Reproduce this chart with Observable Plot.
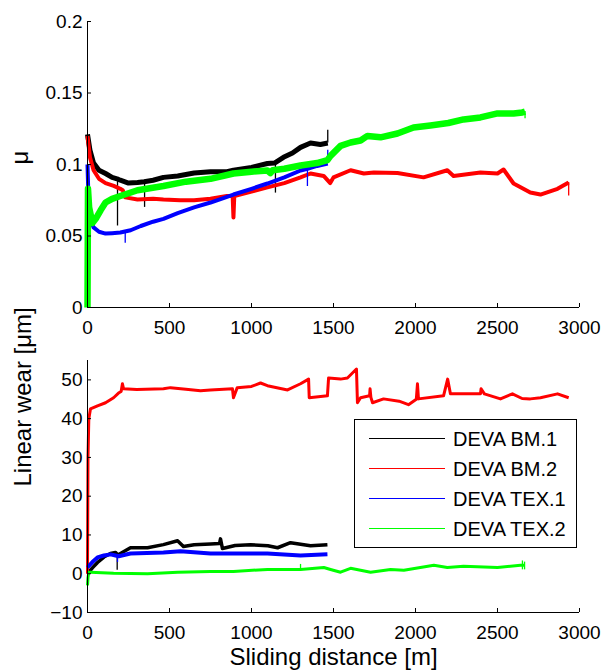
<!DOCTYPE html>
<html>
<head>
<meta charset="utf-8">
<script src="https://cdn.jsdelivr.net/npm/d3@7"></script>
<script src="https://cdn.jsdelivr.net/npm/@observablehq/plot@0.6"></script>
<style>
  html, body { margin: 0; padding: 0; background: #fff; }
  #wrap { position: relative; width: 603px; height: 671px; font-family: "Liberation Sans", Arial, sans-serif; }
  #top { position: absolute; left: 0; top: 0; }
  #bottom { position: absolute; left: 0; top: 340px; }
  #legend { position: absolute; left: 354px; top: 419px; width: 221px; height: 127px; border: 1.5px solid #000; background: #fff; }
  .row { position: absolute; left: 0; height: 30px; width: 100%; }
  .sw { position: absolute; left: 14px; width: 76px; top: 14px; border-top: 1.5px solid; }
  .lb { position: absolute; left: 98px; top: 3px; font-size: 20px; line-height: 24px; color: #000; white-space: nowrap; }
</style>
</head>
<body>
<div id="wrap">
  <div id="top"></div>
  <div id="bottom"></div>
  <div id="legend"></div>
</div>
<script>
// ---- series names / colours ----
const seriesNames = ["DEVA BM.1", "DEVA BM.2", "DEVA TEX.1", "DEVA TEX.2"];
const seriesColors = ["#000000", "#ff0000", "#0000ff", "#00ff00"];

// ---- tick values ----
const xTicks = [0, 500, 1000, 1500, 2000, 2500, 3000];
const muTicks = [0, 0.05, 0.1, 0.15, 0.2];
const wearTicks = [-10, 0, 10, 20, 30, 40, 50];

// ---- friction coefficient (top panel) ----
const bm1MuDist = [0, 15, 37, 70, 110, 150, 180, 200, 250, 305, 345, 400, 463, 550, 650, 750, 850, 890, 1000, 1097, 1140, 1195, 1250, 1299, 1360, 1420, 1465];
const bm1Mu = [0.121, 0.110, 0.101, 0.096, 0.0937, 0.091, 0.090, 0.089, 0.087, 0.0874, 0.088, 0.089, 0.091, 0.092, 0.094, 0.095, 0.095, 0.096, 0.098, 0.1007, 0.101, 0.105, 0.108, 0.112, 0.115, 0.114, 0.115];
// thin spikes: distance, base value, tip value
const bm1MuSpikeDist = [183, 348, 1146, 1465];
const bm1MuSpikeBase = [0.089, 0.088, 0.101, 0.115];
const bm1MuSpikeTip = [0.057, 0.070, 0.080, 0.124];

const bm2MuDist = [0, 15, 37, 70, 110, 160, 200, 215, 230, 305, 400, 463, 565, 650, 750, 850, 885, 890, 895, 1000, 1097, 1200, 1299, 1360, 1440, 1480, 1500, 1604, 1685, 1746, 1890, 2049, 2194, 2232, 2396, 2500, 2537, 2598, 2700, 2762, 2866, 2934];
const bm2Mu = [0.120, 0.105, 0.096, 0.090, 0.087, 0.085, 0.083, 0.082, 0.077, 0.0755, 0.076, 0.0755, 0.075, 0.075, 0.076, 0.078, 0.078, 0.063, 0.078, 0.081, 0.084, 0.087, 0.091, 0.0937, 0.092, 0.087, 0.091, 0.096, 0.0937, 0.0944, 0.094, 0.091, 0.096, 0.092, 0.0944, 0.0937, 0.0965, 0.0867, 0.0804, 0.079, 0.083, 0.0874];
const bm2MuSpikeDist = [2934];
const bm2MuSpikeBase = [0.0874];
const bm2MuSpikeTip = [0.078];

const tex1MuDist = [0, 5, 15, 37, 70, 110, 150, 200, 263, 325, 400, 463, 550, 650, 750, 890, 1000, 1097, 1200, 1299, 1341, 1400, 1465];
const tex1Mu = [0.100, 0.080, 0.062, 0.056, 0.053, 0.0517, 0.052, 0.0524, 0.054, 0.057, 0.060, 0.062, 0.066, 0.070, 0.0734, 0.079, 0.083, 0.0867, 0.091, 0.0958, 0.097, 0.099, 0.1007];
const tex1MuSpikeDist = [1341, 1465, 230];
const tex1MuSpikeBase = [0.097, 0.1007, 0.053];
const tex1MuSpikeTip = [0.0846, 0.110, 0.045];

const tex2MuDist = [0, 3, 10, 30, 50, 80, 110, 150, 200, 305, 463, 600, 750, 890, 1000, 1097, 1115, 1130, 1200, 1299, 1400, 1463, 1482, 1543, 1604, 1665, 1707, 1787, 1890, 1988, 2091, 2200, 2293, 2396, 2500, 2598, 2652, 2668];
const tex2Mu = [0.0, 0.083, 0.070, 0.059, 0.062, 0.068, 0.0734, 0.076, 0.078, 0.082, 0.085, 0.088, 0.090, 0.0937, 0.095, 0.0958, 0.094, 0.096, 0.097, 0.0993, 0.101, 0.103, 0.106, 0.113, 0.1154, 0.1168, 0.120, 0.119, 0.1217, 0.1259, 0.1273, 0.129, 0.1315, 0.1329, 0.1357, 0.1357, 0.1364, 0.137];
const tex2MuSpikeDist = [2668];
const tex2MuSpikeBase = [0.137];
const tex2MuSpikeTip = [0.132];

// ---- linear wear (bottom panel) ----
const bm1WearDist = [0, 30, 61, 100, 140, 171, 184, 201, 262, 366, 463, 549, 585, 650, 750, 805, 811, 823, 900, 994, 1100, 1159, 1238, 1360, 1463];
const bm1Wear = [0.0, 1.5, 2.9, 4.3, 5.2, 5.5, 4.8, 5.2, 6.7, 6.7, 7.5, 8.5, 7.0, 7.5, 7.7, 7.8, 9.0, 6.5, 7.3, 7.5, 7.2, 6.7, 8.0, 7.2, 7.5];
const bm1WearSpikeDist = [181];
const bm1WearSpikeBase = [5.3];
const bm1WearSpikeTip = [0.9];

const bm2WearDist = [0, 3, 8, 18, 61, 110, 159, 189, 205, 213, 220, 300, 463, 506, 600, 689, 750, 884, 890, 913, 1000, 1055, 1097, 1220, 1299, 1348, 1352, 1463, 1470, 1543, 1585, 1640, 1646, 1665, 1720, 1723, 1728, 1738, 1805, 1900, 1957, 2005, 2012, 2018, 2171, 2196, 2213, 2396, 2400, 2420, 2518, 2591, 2650, 2700, 2762, 2866, 2934];
const bm2Wear = [0, 30, 40, 42.5, 43.3, 44.1, 45.4, 46.6, 47, 49, 47.7, 47.5, 47.7, 48, 47.6, 47.2, 47.4, 47.7, 45.4, 48, 48.3, 49.2, 48.5, 47.4, 49, 50.2, 45.4, 45.9, 50.5, 50.2, 50.5, 52.8, 44.1, 45.4, 45.9, 47.7, 45.5, 44.1, 45.1, 44.5, 43.6, 45.0, 49, 45.1, 45.9, 50.2, 46.4, 46.4, 47.7, 46.4, 45.1, 46.4, 45.2, 45.1, 45.4, 46.4, 45.4];

const tex1WearDist = [0, 30, 61, 100, 140, 171, 190, 262, 463, 567, 750, 900, 1097, 1299, 1463];
const tex1Wear = [1.6, 3.0, 4.2, 4.7, 5.0, 4.7, 4.5, 5.2, 5.5, 5.8, 5.2, 5.2, 5.2, 4.7, 5.0];
const tex1WearSpikeDist = [183];
const tex1WearSpikeBase = [4.6];
const tex1WearSpikeTip = [2.9];

const tex2WearDist = [0, 3, 8, 18, 159, 366, 550, 750, 890, 1097, 1299, 1441, 1482, 1543, 1604, 1726, 1848, 1929, 2112, 2194, 2293, 2500, 2640, 2665];
const tex2Wear = [-3, -1, 0.4, 0.4, 0.1, 0.0, 0.4, 0.6, 0.6, 1.1, 1.1, 1.6, 1.1, 0.4, 1.4, 0.4, 1.1, 0.9, 2.2, 1.6, 1.9, 1.6, 2.2, 2.2];
const tex2WearSpikeDist = [1299, 2652, 2665];
const tex2WearSpikeBase = [1.1, 1.0, 1.0];
const tex2WearSpikeTip = [2.4, 3.3, 3.0];

// ---- build tables ----
const toRows = (dist, vals) => dist.map((d, i) => ({d, v: vals[i]}));
const toSpikes = (dist, base, tip) => dist.map((d, i) => ({d, a: base[i], b: tip[i]}));
const muRows = [
  toRows(bm1MuDist, bm1Mu), toRows(bm2MuDist, bm2Mu),
  toRows(tex1MuDist, tex1Mu), toRows(tex2MuDist, tex2Mu)
];
const muSpikes = [
  toSpikes(bm1MuSpikeDist, bm1MuSpikeBase, bm1MuSpikeTip),
  toSpikes(bm2MuSpikeDist, bm2MuSpikeBase, bm2MuSpikeTip),
  toSpikes(tex1MuSpikeDist, tex1MuSpikeBase, tex1MuSpikeTip),
  toSpikes(tex2MuSpikeDist, tex2MuSpikeBase, tex2MuSpikeTip)
];
const wearRows = [
  toRows(bm1WearDist, bm1Wear), toRows(bm2WearDist, bm2Wear),
  toRows(tex1WearDist, tex1Wear), toRows(tex2WearDist, tex2Wear)
];
const wearSpikes = [
  toSpikes(bm1WearSpikeDist, bm1WearSpikeBase, bm1WearSpikeTip),
  [],
  toSpikes(tex1WearSpikeDist, tex1WearSpikeBase, tex1WearSpikeTip),
  toSpikes(tex2WearSpikeDist, tex2WearSpikeBase, tex2WearSpikeTip)
];

const FONT = "Liberation Sans, Arial, sans-serif";
const fmtMinus = d => d < 0 ? "\u2212" + Math.abs(d) : String(d);

function panel({rows, spikes, widths, yDomain, yTicks, yLabel, labelDx, height, marginTop, marginBottom, xLabel}) {
  const marks = [];
  rows.forEach((r, i) => {
    marks.push(Plot.ruleX(spikes[i], {x: "d", y1: "a", y2: "b", stroke: seriesColors[i], strokeWidth: 1.3}));
    marks.push(Plot.line(r, {x: "d", y: "v", stroke: seriesColors[i], strokeWidth: widths[i], strokeLinejoin: "round", strokeLinecap: "butt"}));
  });
  marks.push(
    Plot.axisX({ticks: xTicks, tickSize: 0, tickPadding: 13, fontSize: 19, label: null, tickFormat: d => String(d)}),
    Plot.axisX({ticks: xTicks, tickSize: 4, dy: -4, text: null, label: null, stroke: "#000"}),
    Plot.axisY({ticks: yTicks, tickSize: 0, tickPadding: 5, fontSize: 19, label: null, tickFormat: fmtMinus}),
    Plot.axisY({ticks: yTicks, tickSize: 4, dx: 4, text: null, label: null, stroke: "#000"}),
    Plot.ruleX([0], {stroke: "#000", strokeWidth: 1}),
    Plot.ruleY([yDomain[0]], {stroke: "#000", strokeWidth: 1}),
    Plot.text([yLabel], {frameAnchor: "left", rotate: -90, dx: labelDx, fontSize: 24, fill: "#000"})
  );
  if (xLabel) marks.push(Plot.text([xLabel], {frameAnchor: "bottom", dy: 52, fontSize: 24, fill: "#000"}));
  return Plot.plot({
    width: 603,
    height,
    marginLeft: 87,
    marginRight: 24,
    marginTop,
    marginBottom,
    style: {fontFamily: FONT, color: "#000", background: "#fff", overflow: "visible"},
    x: {domain: [0, 3000]},
    y: {domain: yDomain},
    marks
  });
}

document.getElementById("top").appendChild(panel({
  rows: muRows, spikes: muSpikes, widths: [5, 4, 4, 6.5], yDomain: [0, 0.2], yTicks: muTicks,
  yLabel: "\u03bc", labelDx: -67, height: 340, marginTop: 21, marginBottom: 33
}));
document.getElementById("bottom").appendChild(panel({
  rows: wearRows, spikes: wearSpikes, widths: [3.5, 3, 4, 3], yDomain: [-10, 55], yTicks: wearTicks,
  yLabel: "Linear wear [\u03bcm]", labelDx: -64, height: 331, marginTop: 20, marginBottom: 59,
  xLabel: "Sliding distance [m]"
}));

// legend
const leg = document.getElementById("legend");
seriesNames.forEach((name, i) => {
  const row = document.createElement("div");
  row.className = "row";
  row.style.top = (4 + i * 30) + "px";
  const sw = document.createElement("div");
  sw.className = "sw";
  sw.style.borderTopColor = seriesColors[i];
  const lb = document.createElement("div");
  lb.className = "lb";
  lb.textContent = name;
  row.appendChild(sw); row.appendChild(lb);
  leg.appendChild(row);
});
</script>
</body>
</html>
